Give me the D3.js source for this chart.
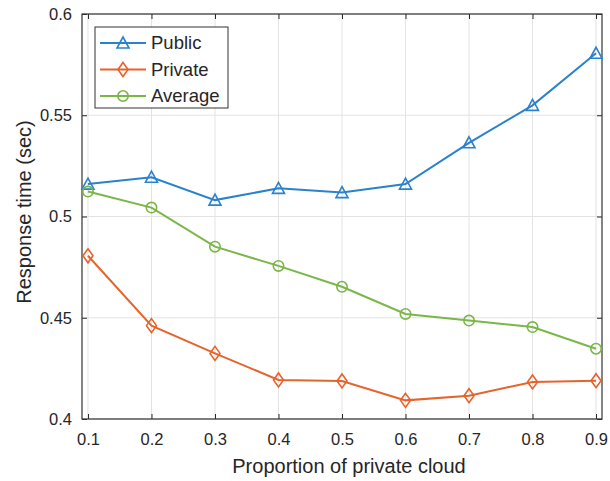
<!DOCTYPE html>
<html>
<head>
<meta charset="utf-8">
<style>
  body { margin: 0; background: #fff; }
  text { font-family: "Liberation Sans", Arial, sans-serif; fill: #262626; }
</style>
</head>
<body>
<div id="chart"></div>
<script src="https://d3js.org/d3.v7.min.js"></script>
<script>
    const proportions = [0.1, 0.2, 0.3, 0.4, 0.5, 0.6, 0.7, 0.8, 0.9];
    const publicTimes = [0.516, 0.5194, 0.5081, 0.5139, 0.5118, 0.516, 0.5364, 0.5549, 0.5806];
    const privateTimes = [0.4806, 0.4461, 0.4324, 0.4193, 0.4188, 0.4092, 0.4115, 0.4183, 0.4189];
    const averageTimes = [0.5123, 0.5044, 0.4851, 0.4756, 0.4653, 0.4519, 0.4486, 0.4454, 0.4347];
    const xTicks = [0.1, 0.2, 0.3, 0.4, 0.5, 0.6, 0.7, 0.8, 0.9];
    const yTicks = [0.4, 0.45, 0.5, 0.55, 0.6];

    const series = [
        { name: 'Public', values: publicTimes, color: '#2a82cc', marker: 'triangle' },
        { name: 'Private', values: privateTimes, color: '#e6632b', marker: 'diamond' },
        { name: 'Average', values: averageTimes, color: '#7ab648', marker: 'circle' }
    ];

    const svg = d3.select('#chart')
        .append('svg')
        .attr('width', 610)
        .attr('height', 481);

    const margin = { top: 14, right: 8, bottom: 62, left: 82 };
    const width = 610 - margin.left - margin.right;
    const height = 481 - margin.top - margin.bottom;

    const g = svg.append('g')
        .attr('transform', `translate(${margin.left},${margin.top})`);

    const xScale = d3.scaleLinear().domain([0.0906, 0.9094]).range([0, width]);
    const yScale = d3.scaleLinear().domain([0.4, 0.6]).range([height, 0]);

    // grid
    g.selectAll('.gx').data(xTicks).enter().append('line')
        .attr('x1', d => xScale(d)).attr('x2', d => xScale(d))
        .attr('y1', 0).attr('y2', height)
        .attr('stroke', '#e3e3e3').attr('stroke-width', 1);
    g.selectAll('.gy').data(yTicks).enter().append('line')
        .attr('y1', d => yScale(d)).attr('y2', d => yScale(d))
        .attr('x1', 0).attr('x2', width)
        .attr('stroke', '#e3e3e3').attr('stroke-width', 1);

    // axes (ticks inward, on all four sides)
    const styleAxis = sel => {
        sel.select('.domain').remove();
        sel.selectAll('line').attr('stroke', '#262626');
        sel.selectAll('text').attr('font-size', 16.5).attr('fill', '#262626')
            .style('font-family', '"Liberation Sans", Arial, sans-serif');
    };
    g.append('g').attr('transform', `translate(0,${height})`)
        .call(d3.axisBottom(xScale).tickValues(xTicks).tickFormat(d3.format('.1f'))
            .tickSizeInner(-5).tickSizeOuter(0).tickPadding(14))
        .call(styleAxis);
    g.append('g')
        .call(d3.axisTop(xScale).tickValues(xTicks).tickFormat('').tickSizeInner(-5).tickSizeOuter(0))
        .call(styleAxis);
    g.append('g')
        .call(d3.axisLeft(yScale).tickValues(yTicks).tickFormat(d => d3.format('')(+d.toFixed(2)))
            .tickSizeInner(-5).tickSizeOuter(0).tickPadding(10))
        .call(styleAxis);
    g.append('g').attr('transform', `translate(${width},0)`)
        .call(d3.axisRight(yScale).tickValues(yTicks).tickFormat('').tickSizeInner(-5).tickSizeOuter(0))
        .call(styleAxis);

    // box
    g.append('rect')
        .attr('width', width).attr('height', height)
        .attr('fill', 'none').attr('stroke', '#333').attr('stroke-width', 1.2);

    const markerPath = {
        triangle: 'M0,-6L6,5L-6,5Z',
        diamond: 'M0,-7L5,0L0,7L-5,0Z',
        circle: d3.symbol().type(d3.symbolCircle).size(85)()
    };

    const line = d3.line()
        .x((d, i) => xScale(proportions[i]))
        .y(d => yScale(d));

    series.forEach(s => {
        g.append('path')
            .datum(s.values)
            .attr('fill', 'none')
            .attr('stroke', s.color)
            .attr('stroke-width', 2)
            .attr('d', line);
        g.selectAll(null).data(s.values).enter().append('path')
            .attr('transform', (d, i) => `translate(${xScale(proportions[i])},${yScale(d)})`)
            .attr('d', markerPath[s.marker])
            .attr('fill', 'none')
            .attr('stroke', s.color)
            .attr('stroke-width', 1.6);
    });

    // legend
    const legend = svg.append('g').attr('transform', 'translate(95,27)');
    legend.append('rect')
        .attr('width', 133).attr('height', 81)
        .attr('fill', '#fff').attr('stroke', '#333').attr('stroke-width', 1);
    series.forEach((s, i) => {
        const y = 16 + i * 26.5;
        legend.append('line')
            .attr('x1', 5).attr('x2', 51).attr('y1', y).attr('y2', y)
            .attr('stroke', s.color).attr('stroke-width', 2);
        legend.append('path')
            .attr('transform', `translate(28,${y})`)
            .attr('d', markerPath[s.marker])
            .attr('fill', 'none').attr('stroke', s.color).attr('stroke-width', 1.6);
        legend.append('text')
            .attr('x', 56).attr('y', y).attr('dy', '0.35em')
            .attr('font-size', 18.5)
            .text(s.name);
    });

    // axis titles
    svg.append('text')
        .attr('x', 349).attr('y', 473)
        .attr('text-anchor', 'middle').attr('font-size', 20)
        .text('Proportion of private cloud');
    svg.append('text')
        .attr('transform', `translate(31,212) rotate(-90)`)
        .attr('text-anchor', 'middle').attr('font-size', 20)
        .text('Response time (sec)');
</script>
</body>
</html>
